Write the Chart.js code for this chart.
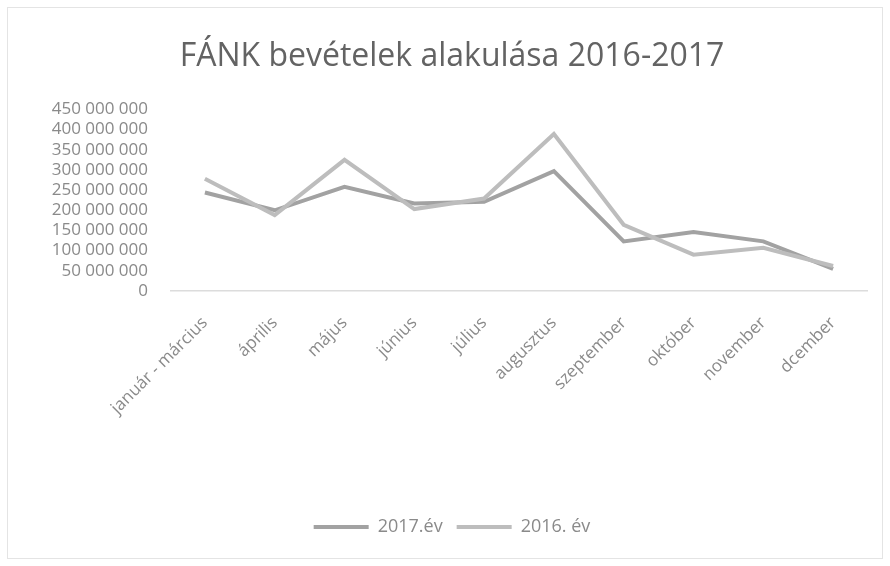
<!DOCTYPE html>
<html>
<head>
<meta charset="utf-8">
<script src="https://cdn.jsdelivr.net/npm/chart.js@4"></script>
<style>
  html, body { margin: 0; padding: 0; background: #fff; }
  #wrap { position: relative; width: 890px; height: 566px; }
  #frame { position: absolute; left: 7px; top: 7px; width: 874px; height: 550px; border: 1px solid #e4e4e4; }
</style>
</head>
<body>
<div id="wrap">
  <div id="frame"></div>
  <canvas id="chart" width="890" height="566"></canvas>
</div>
<script>
const months = ["január - március", "április", "május", "június", "július", "augusztus", "szeptember", "október", "november", "dcember"];
const revenue2017 = [244000000, 200000000, 258000000, 217000000, 221000000, 297000000, 123000000, 146000000, 123000000, 55000000];
const revenue2016 = [278000000, 188000000, 325000000, 203000000, 229000000, 389000000, 164000000, 90000000, 107000000, 62000000];
const yMax = 450000000;
const yStep = 50000000;

function fmtSpace(v) {
  return String(Math.round(v)).replace(/\B(?=(\d{3})+(?!\d))/g, " ");
}

const font = "'Open Sans', sans-serif";

// 2016 is drawn on top of 2017, like in the original
new Chart(document.getElementById("chart"), {
  type: "line",
  data: {
    labels: months,
    datasets: [
      {
        label: "2017.év",
        data: revenue2017,
        borderColor: "#a2a2a2",
        backgroundColor: "#a2a2a2",
        borderWidth: 4,
        pointRadius: 0,
        tension: 0,
        order: 1
      },
      {
        label: "2016. év",
        data: revenue2016,
        borderColor: "#bdbdbd",
        backgroundColor: "#bdbdbd",
        borderWidth: 4,
        pointRadius: 0,
        tension: 0,
        order: 0
      }
    ]
  },
  options: {
    responsive: false,
    animation: false,
    layout: { padding: { left: 36, right: 22, top: 10, bottom: 20 } },
    plugins: {
      title: {
        display: true,
        text: "FÁNK bevételek alakulása 2016-2017",
        color: "#636363",
        font: { family: font, size: 32, weight: "normal" },
        padding: { top: 28, bottom: 33 }
      },
      legend: {
        position: "bottom",
        labels: {
          color: "#8a8a8a",
          font: { family: font, size: 18 },
          boxWidth: 55,
          boxHeight: 4,
          padding: 14,
          sort: (a, b) => a.datasetIndex - b.datasetIndex,
          generateLabels: chart => Chart.defaults.plugins.legend.labels.generateLabels(chart)
            .map(item => Object.assign(item, { lineWidth: 0 }))
        }
      },
      tooltip: { enabled: false }
    },
    scales: {
      x: {
        offset: true,
        grid: { display: false, drawTicks: false },
        border: { display: false },
        ticks: {
          color: "#8a8a8a",
          font: { family: font, size: 17 },
          maxRotation: 45,
          minRotation: 45,
          autoSkip: false,
          padding: 22
        },
        afterFit: axis => { axis.height = 213; }
      },
      y: {
        min: 0,
        max: yMax,
        grid: {
          drawTicks: false,
          color: ctx => ctx.tick && ctx.tick.value === 0 ? "#dcdcdc" : "rgba(0,0,0,0)",
          lineWidth: 1.5
        },
        border: { display: false },
        ticks: {
          stepSize: yStep,
          autoSkip: false,
          color: "#8a8a8a",
          font: { family: font, size: 17 },
          padding: 22,
          callback: v => fmtSpace(v)
        },
        afterFit: axis => { axis.width = 134; }
      }
    }
  }
});
</script>
</body>
</html>
